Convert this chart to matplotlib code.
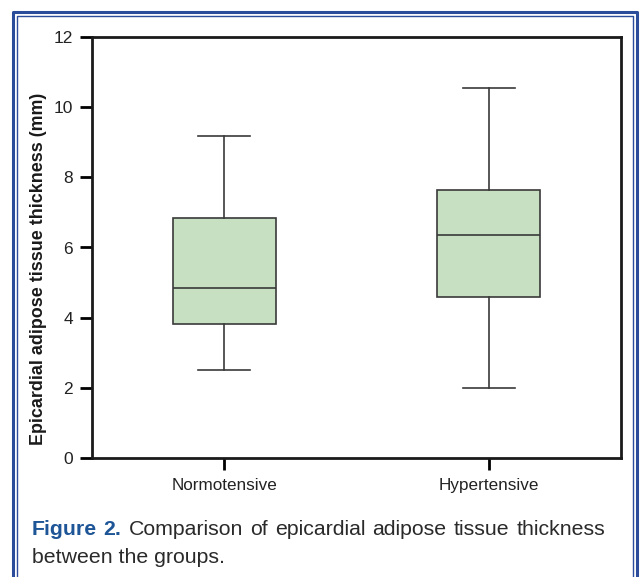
import matplotlib
matplotlib.use('Agg')
import matplotlib.pyplot as plt
from matplotlib.lines import Line2D

# box statistics (mm)
groups = ['Normotensive', 'Hypertensive']
whislo = [2.50, 2.00]
q1 = [3.81, 4.60]
med = [4.85, 6.36]
q3 = [6.85, 7.63]
whishi = [9.17, 10.53]
yticks = [0, 2, 4, 6, 8, 10, 12]

plt.rcParams['font.family'] = ['Liberation Sans', 'DejaVu Sans']

W, H = 641, 577
fig = plt.figure(figsize=(W / 100, H / 100), dpi=100)
ax = fig.add_axes([92 / W, 1 - 458.3 / H, (621 - 92) / W, (458.3 - 36.7) / H])

stats = [dict(label=g, whislo=lo, q1=a, med=m, q3=b, whishi=hi, fliers=[])
         for g, lo, a, m, b, hi in zip(groups, whislo, q1, med, q3, whishi)]
edge = '#3a3a3a'
ax.bxp(stats, positions=[1, 2], widths=0.39, patch_artist=True, showfliers=False,
       boxprops=dict(facecolor='#c8e0c2', edgecolor=edge, linewidth=1.2),
       medianprops=dict(color=edge, linewidth=1.2),
       whiskerprops=dict(color=edge, linewidth=1.2),
       capprops=dict(color=edge, linewidth=1.2))

ax.set_xlim(0.5, 2.5)
ax.set_ylim(0, 12)
ax.set_yticks(yticks)
ax.set_xticks([1, 2])
ax.set_xticklabels(groups, fontsize=12.3, color='#222222')
ax.tick_params(axis='y', labelsize=12.5, length=8.5, width=2, pad=5, labelcolor='#222222')
ax.tick_params(axis='x', length=8.5, width=2, pad=6)
for s in ax.spines.values():
    s.set_linewidth(2)
    s.set_color('#1a1a1a')
ax.set_ylabel('Epicardial adipose tissue thickness (mm)', fontsize=12.9,
              fontweight='bold', color='#1a1a1a')
ax.yaxis.set_label_coords(-0.085, 0.449)

# frame around the figure
blue = '#2b4b9b'
fig.add_artist(Line2D([13 / W, 13 / W, 637 / W, 637 / W], [0, 1 - 11.5 / H, 1 - 11.5 / H, 0],
                      transform=fig.transFigure, color=blue, linewidth=2.2))
fig.add_artist(Line2D([17 / W, 17 / W, 633 / W, 633 / W], [0, 1 - 15.5 / H, 1 - 15.5 / H, 0],
                      transform=fig.transFigure, color=blue, linewidth=1.0))

# caption, first line justified
cap_size = 15.3
tokens = [('Figure', 'bold', '#1d5597'), ('2.', 'bold', '#1d5597')]
tokens += [(w, 'normal', '#2a2a2a') for w in
           ['Comparison', 'of', 'epicardial', 'adipose', 'tissue', 'thickness']]
renderer = fig.canvas.get_renderer()
texts = [fig.text(0, 1 - 535 / H, t, fontsize=cap_size, fontweight=fw, color=c)
         for t, fw, c in tokens]
widths = [t.get_window_extent(renderer).width for t in texts]
x_left, x_right = 31.5, 605
gap = (x_right - x_left - sum(widths)) / (len(texts) - 1)
x = x_left
for t, w in zip(texts, widths):
    t.set_x(x / W)
    x += w + gap
fig.text(31.5 / W, 1 - 563 / H, 'between the groups.', fontsize=cap_size, color='#2a2a2a')

fig.savefig('out.png', dpi=100)
